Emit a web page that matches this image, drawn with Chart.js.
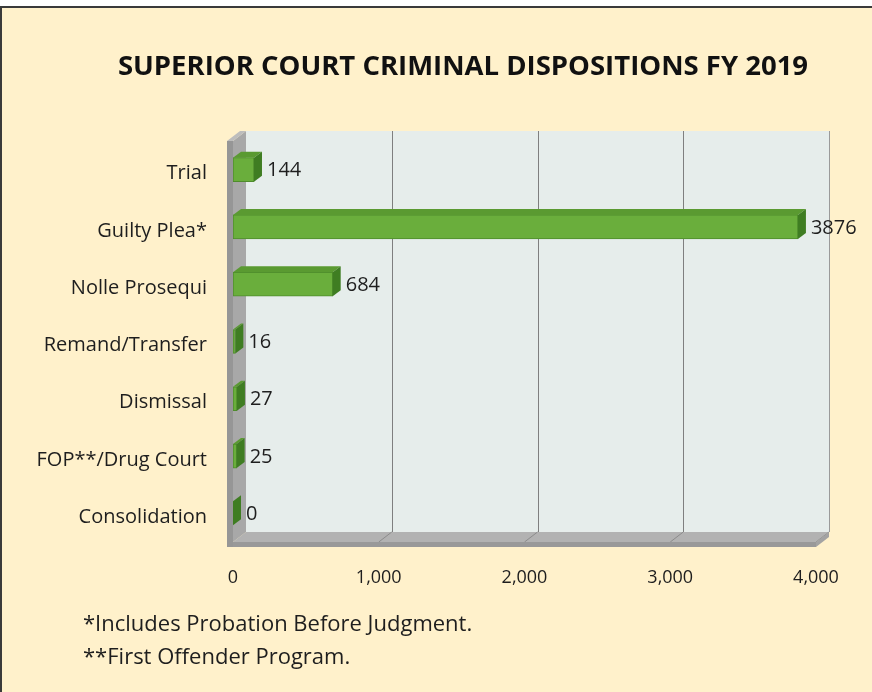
<!DOCTYPE html>
<html>
<head>
<meta charset="utf-8">
<script src="https://cdn.jsdelivr.net/npm/chart.js@4.4.1/dist/chart.umd.min.js"></script>
<style>
    html, body { margin: 0; padding: 0; }
    body { width: 872px; height: 692px; background: #fff1cb; position: relative; overflow: hidden; font-family: "Open Sans", sans-serif; }
    #topstrip { position: absolute; left: 0; top: 0; width: 872px; height: 6px; background: #fff; }
    #frame { position: absolute; left: 0; top: 6px; width: 872px; height: 686px; border-top: 2px solid #3a3a3a; border-left: 2px solid #3a3a3a; box-sizing: border-box; }
    #chart { position: absolute; left: 0; top: 0; }
    #title { position: absolute; left: 263px; width: 400px; top: 48px; text-align: center; white-space: nowrap; font-size: 27.5px; line-height: 34px; font-weight: bold; color: #111; display: flex; justify-content: center; }
    .note { position: absolute; left: 83px; font-size: 22px; line-height: 26px; color: #1e1e1e; }
</style>
</head>
<body>
<div id="topstrip"></div>
<div id="frame"></div>
<canvas id="chart" width="872" height="692"></canvas>
<div id="title">SUPERIOR COURT CRIMINAL DISPOSITIONS FY 2019</div>
<div class="note" style="top:609px">*Includes Probation Before Judgment.</div>
<div class="note" style="top:642px">**First Offender Program.</div>
<script>
// chart data
var categories = ['Trial', 'Guilty Plea*', 'Nolle Prosequi', 'Remand/Transfer', 'Dismissal', 'FOP**/Drug Court', 'Consolidation'];
var dispositions = [144, 3876, 684, 16, 27, 25, 0];
var xTicks = [0, 1000, 2000, 3000, 4000];

// 3D look: depth of walls and of bars
var WDX = 13, WDY = -10;
var BDX = 8, BDY = -6;

var box3d = {
    id: 'box3d',
    beforeDatasetsDraw: function(chart) {
        var ctx = chart.ctx, a = chart.chartArea, xs = chart.scales.x;
        var l = a.left, r = a.right, t = a.top, b = a.bottom;
        ctx.save();
        // back wall
        ctx.fillStyle = '#e6edeb';
        ctx.fillRect(l + WDX, t + WDY, r - l, b - t);
        // gridlines on the back wall and floor
        ctx.strokeStyle = '#7f7f7f';
        ctx.lineWidth = 1;
        xTicks.forEach(function(v) {
            if (v === 0) return;
            var x = Math.round(xs.getPixelForValue(v)) + 0.5;
            ctx.beginPath();
            ctx.moveTo(x + WDX, t + WDY);
            ctx.lineTo(x + WDX, b + WDY);
            ctx.stroke();
        });
        // floor
        ctx.fillStyle = '#b2b2b2';
        ctx.beginPath();
        ctx.moveTo(l, b); ctx.lineTo(l + WDX, b + WDY); ctx.lineTo(r + WDX, b + WDY); ctx.lineTo(r, b);
        ctx.closePath(); ctx.fill();
        ctx.strokeStyle = '#8c8c8c';
        xTicks.forEach(function(v) {
            if (v === 0) return;
            var x = xs.getPixelForValue(v);
            ctx.beginPath();
            ctx.moveTo(x + WDX, b + WDY);
            ctx.lineTo(x, b);
            ctx.stroke();
        });
        // floor slab front and side
        ctx.fillStyle = '#999999';
        ctx.fillRect(l - 6, b, r - l + 6, 5);
        ctx.fillStyle = '#a3a3a3';
        ctx.beginPath();
        ctx.moveTo(r, b); ctx.lineTo(r + WDX, b + WDY); ctx.lineTo(r + WDX, b + WDY + 5); ctx.lineTo(r, b + 5);
        ctx.closePath(); ctx.fill();
        // left wall
        ctx.fillStyle = '#a8a8a8';
        ctx.beginPath();
        ctx.moveTo(l, t); ctx.lineTo(l + WDX, t + WDY); ctx.lineTo(l + WDX, b + WDY); ctx.lineTo(l, b);
        ctx.closePath(); ctx.fill();
        ctx.fillStyle = '#969696';
        ctx.fillRect(l - 6, t, 6, b - t + 5);
        ctx.fillStyle = '#bdbdbd';
        ctx.beginPath();
        ctx.moveTo(l - 6, t); ctx.lineTo(l - 6 + WDX, t + WDY); ctx.lineTo(l + WDX, t + WDY); ctx.lineTo(l, t);
        ctx.closePath(); ctx.fill();
        // back wall right edge
        ctx.strokeStyle = '#9a9a9a';
        ctx.beginPath();
        ctx.moveTo(r + WDX + 0.5, t + WDY);
        ctx.lineTo(r + WDX + 0.5, b + WDY);
        ctx.stroke();
        ctx.restore();
    },
    afterDatasetsDraw: function(chart) {
        var ctx = chart.ctx;
        var meta = chart.getDatasetMeta(0);
        ctx.save();
        meta.data.forEach(function(bar, i) {
            var x0 = bar.base, x1 = bar.x;
            var yt = bar.y - bar.height / 2, yb = bar.y + bar.height / 2;
            // top face
            ctx.fillStyle = '#5a9a31';
            ctx.beginPath();
            ctx.moveTo(x0, yt); ctx.lineTo(x0 + BDX, yt + BDY); ctx.lineTo(x1 + BDX, yt + BDY); ctx.lineTo(x1, yt);
            ctx.closePath(); ctx.fill();
            // right face
            ctx.fillStyle = '#3f7d22';
            ctx.beginPath();
            ctx.moveTo(x1, yt); ctx.lineTo(x1 + BDX, yt + BDY); ctx.lineTo(x1 + BDX, yb + BDY); ctx.lineTo(x1, yb);
            ctx.closePath(); ctx.fill();
            // value label
            ctx.fillStyle = '#1e1e1e';
            ctx.font = '20px "Open Sans"';
            ctx.textBaseline = 'middle';
            ctx.textAlign = 'left';
            ctx.fillText(String(dispositions[i]), x1 + BDX + 5, bar.y + 1);
        });
        ctx.restore();
    }
};

var ctx = document.getElementById('chart').getContext('2d');
new Chart(ctx, {
    type: 'bar',
    data: {
        labels: categories,
        datasets: [{
            data: dispositions,
            backgroundColor: '#6aae3c',
            borderColor: '#4f8c2c',
            borderWidth: 1,
            borderSkipped: false,
            barThickness: 24
        }]
    },
    options: {
        indexAxis: 'y',
        responsive: false,
        animation: false,
        layout: { padding: { left: 0, right: 56, top: 141, bottom: 0 } },
        plugins: {
            legend: { display: false },
            tooltip: { enabled: false },
            title: { display: false }
        },
        scales: {
            x: {
                min: 0,
                max: 4000,
                afterBuildTicks: function(scale) {
                    scale.ticks = xTicks.map(function(v) { return { value: v }; });
                },
                afterFit: function(scale) { scale.height = 150; },
                grid: { display: false },
                border: { display: false },
                ticks: {
                    padding: 17,
                    color: '#1e1e1e',
                    font: { family: 'Open Sans', size: 18 },
                    callback: function(v) { return Number(v).toLocaleString('en-US'); }
                }
            },
            y: {
                afterFit: function(scale) { scale.width = 233; },
                grid: { display: false },
                border: { display: false },
                ticks: {
                    padding: 18,
                    labelOffset: 4,
                    color: '#1e1e1e',
                    font: { family: 'Open Sans', size: 20 }
                }
            }
        }
    },
    plugins: [box3d]
});
</script>
</body>
</html>
